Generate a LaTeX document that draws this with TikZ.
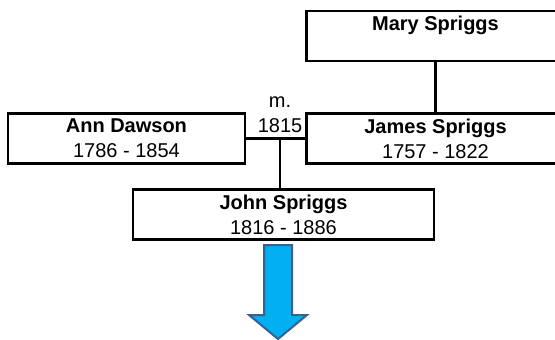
\documentclass[tikz,border=0pt]{standalone}
\usepackage{fontspec}
\setmainfont{Liberation Sans}
\usetikzlibrary{positioning}

\definecolor{arrowfill}{RGB}{0,176,240}
\definecolor{arrowline}{RGB}{59,95,143}

\tikzset{
  person/.style={draw, line width=1.3pt, inner sep=0pt, align=center,
    minimum height=25pt, font=\fontsize{10}{12.5}\selectfont},
  link/.style={line width=1.3pt},
  down/.style={draw=arrowline, fill=arrowfill, line width=1pt, line join=miter},
}

\begin{document}
\begin{tikzpicture}[x=0.5pt, y=-0.5pt]

  % Canvas
  \fill[white] (0,0) rectangle (555,339);
  \clip (0,0) rectangle (555,339);

  % Define nodes
  \node[person, minimum width=129pt]                      (james) at (435.5,138.5) {\textbf{James Spriggs}\\1757 - 1822};
  \node[person, minimum width=129pt, above=25pt of james]  (mary)  {\textbf{Mary Spriggs}\\\phantom{1}};
  \node[person, minimum width=118.5pt, left=29.5pt of james] (ann) {\textbf{Ann Dawson}\\1786 - 1854};
  \node[person, minimum width=150.5pt]                    (john)  at (283.5,214.5) {\textbf{John Spriggs}\\1816 - 1886};
  \coordinate (wed) at (280,138);
  \node[above=0pt of wed, align=center, inner sep=2.5pt,
    font=\fontsize{10}{12.5}\selectfont]                  (year)  {m.\\1815};

  % Connect the nodes
  \draw[link] (mary) -- (james);
  \draw[link] (ann) -- (james);
  \draw[link] (wed) -- (wed |- john.north);

  % Descendants
  \draw[down] (264,245) -- (292,245) -- (292,315) -- (307,315) -- (278,339)
    -- (249,315) -- (264,315) -- cycle;

\end{tikzpicture}
\end{document}
